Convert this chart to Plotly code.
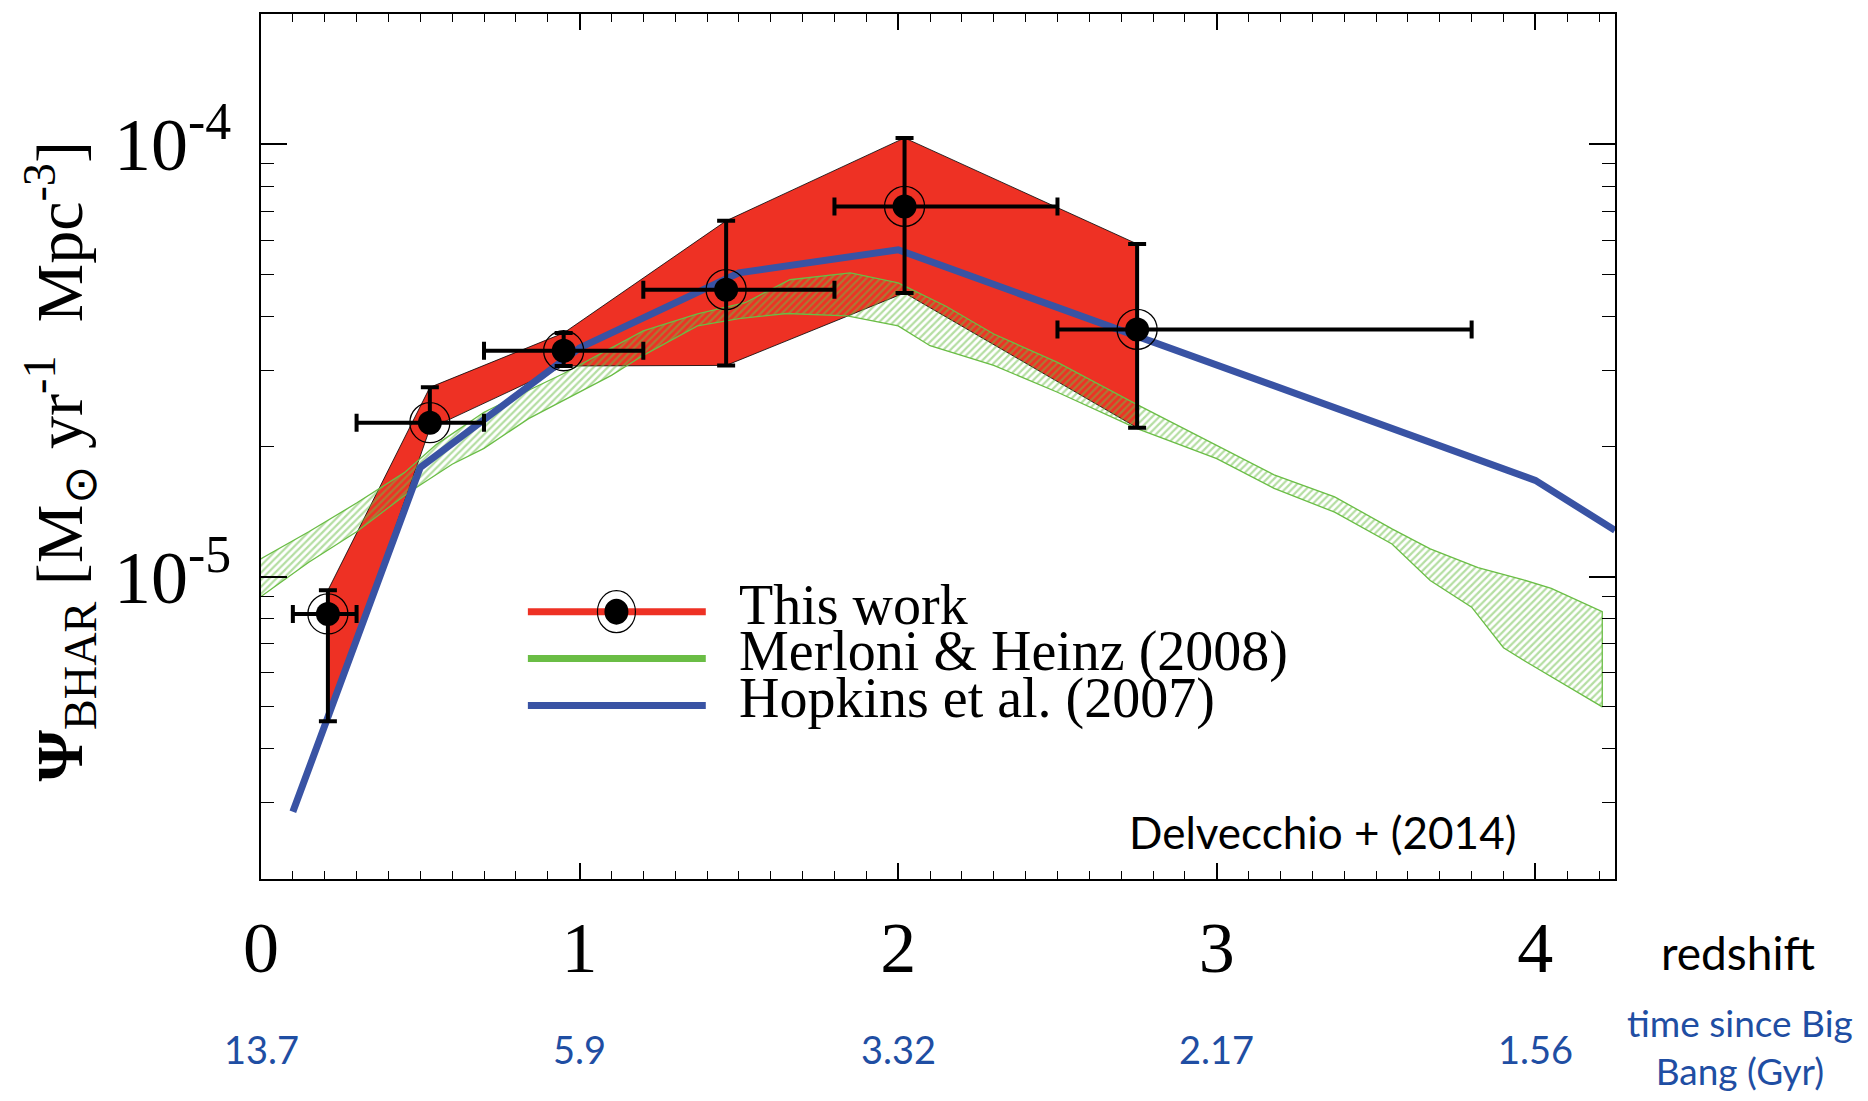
import plotly.graph_objects as go

# ---- Delvecchio et al. (2014): BHAR density per redshift bin ----
z_bins = [0.21, 0.53, 0.95, 1.46, 2.02, 2.75]
z_low = [0.10, 0.30, 0.70, 1.20, 1.80, 2.50]
z_high = [0.30, 0.70, 1.20, 1.80, 2.50, 3.80]
psi_bhar = [8.2e-6, 2.27e-5, 3.33e-5, 4.61e-5, 7.18e-5, 3.73e-5]
psi_upper = [9.3e-6, 2.74e-5, 3.66e-5, 6.65e-5, 1.034e-4, 5.88e-5]
psi_lower = [4.63e-6, 2.20e-5, 3.07e-5, 3.08e-5, 4.53e-5, 2.21e-5]

# ---- Hopkins et al. (2007) ----
hopkins_z = [0.1, 0.5, 1.0, 1.5, 2.0, 3.0, 4.0, 4.25]
hopkins_psi = [2.86e-6, 1.79e-5, 3.38e-5, 5.04e-5, 5.70e-5, 3.08e-5, 1.67e-5, 1.28e-5]

# ---- Merloni & Heinz (2008) envelope ----
mh_z_up = [0.0, 0.15, 0.3, 0.45, 0.55, 0.7, 0.85, 0.95, 1.1, 1.2, 1.37, 1.52, 1.66,
           1.85, 2.0, 2.15, 2.3, 2.5, 2.75, 3.0, 3.18, 3.37, 3.55, 3.67, 3.82, 3.96,
           4.05, 4.21]
mh_up = [1.10e-5, 1.27e-5, 1.48e-5, 1.74e-5, 2.02e-5, 2.40e-5, 2.72e-5, 2.95e-5,
         3.38e-5, 3.70e-5, 4.05e-5, 4.30e-5, 4.86e-5, 5.04e-5, 4.78e-5, 4.22e-5,
         3.64e-5, 3.13e-5, 2.50e-5, 2.01e-5, 1.72e-5, 1.53e-5, 1.29e-5, 1.16e-5,
         1.05e-5, 9.85e-6, 9.40e-6, 8.30e-6]
mh_z_lo = [0.0, 0.15, 0.3, 0.46, 0.6, 0.7, 0.84, 1.0, 1.1, 1.2, 1.37, 1.5, 1.65,
           1.84, 2.0, 2.1, 2.3, 2.5, 2.75, 3.0, 3.18, 3.37, 3.55, 3.67, 3.8, 3.9,
           3.98, 4.21]
mh_lo = [9.0e-6, 1.08e-5, 1.27e-5, 1.56e-5, 1.82e-5, 1.98e-5, 2.32e-5, 2.67e-5,
         2.92e-5, 3.25e-5, 3.80e-5, 3.95e-5, 4.06e-5, 4.01e-5, 3.80e-5, 3.42e-5,
         3.08e-5, 2.67e-5, 2.20e-5, 1.875e-5, 1.60e-5, 1.41e-5, 1.19e-5, 9.8e-6,
         8.5e-6, 6.85e-6, 6.3e-6, 5.0e-6]

# ---- axis ticks ----
redshift_ticks = [0, 1, 2, 3, 4]
redshift_labels = ["0", "1", "2", "3", "4"]
age_labels = ["13.7", "5.9", "3.32", "2.17", "1.56"]
psi_major = [1e-5, 1e-4]
psi_major_labels = ["10<sup>-5</sup>", "10<sup>-4</sup>"]
psi_minor = [2e-6, 3e-6, 4e-6, 5e-6, 6e-6, 7e-6, 8e-6, 9e-6,
             2e-5, 3e-5, 4e-5, 5e-5, 6e-5, 7e-5, 8e-5, 9e-5, 2e-4]

RED = "#ee3124"
GREEN = "#6abd45"
BLUE = "#3953a4"
TEXT_BLUE = "#1f4ea3"
SERIF = "Liberation Serif"
SANS = "Lato"

fig = go.Figure()

# red uncertainty band through the error-bar ends
fig.add_trace(go.Scatter(
    x=z_bins + z_bins[::-1],
    y=psi_upper + psi_lower[::-1],
    fill="toself", fillcolor=RED, mode="lines",
    line=dict(color="black", width=0.8), hoverinfo="skip"))

# hatched Merloni & Heinz band
fig.add_trace(go.Scatter(
    x=mh_z_up + mh_z_lo[::-1],
    y=mh_up + mh_lo[::-1],
    fill="toself", mode="lines",
    fillcolor="rgba(0,0,0,0)",
    fillpattern=dict(shape="/", fgcolor=GREEN, bgcolor="rgba(0,0,0,0)",
                     size=5, solidity=0.45),
    line=dict(color=GREEN, width=1.3), hoverinfo="skip"))

# Hopkins curve
fig.add_trace(go.Scatter(
    x=hopkins_z, y=hopkins_psi, mode="lines",
    line=dict(color=BLUE, width=7)))

# data points with error bars
fig.add_trace(go.Scatter(
    x=z_bins, y=psi_bhar, mode="markers",
    marker=dict(color="black", size=24),
    error_x=dict(type="data", symmetric=False,
                 array=[h - z for h, z in zip(z_high, z_bins)],
                 arrayminus=[z - l for l, z in zip(z_low, z_bins)],
                 color="black", thickness=4, width=9),
    error_y=dict(type="data", symmetric=False,
                 array=[h - p for h, p in zip(psi_upper, psi_bhar)],
                 arrayminus=[p - l for l, p in zip(psi_lower, psi_bhar)],
                 color="black", thickness=4, width=9)))
fig.add_trace(go.Scatter(
    x=z_bins, y=psi_bhar, mode="markers",
    marker=dict(symbol="circle-open", size=40, color="black",
                line=dict(width=1.3, color="black"))))

# ---- legend drawn by hand ----
shapes = []
legend_rows = [(RED, 0.3091, "This work"),
               (GREEN, 0.2549, "Merloni &amp; Heinz (2008)"),
               (BLUE, 0.2007, "Hopkins et al. (2007)")]
annotations = []
for col, yy, label in legend_rows:
    shapes.append(dict(type="line", xref="paper", yref="paper",
                       x0=0.1971, x1=0.3285, y0=yy, y1=yy,
                       line=dict(color=col, width=7)))
    annotations.append(dict(xref="paper", yref="paper", x=0.3514, y=yy + 0.008,
                            xanchor="left", yanchor="middle", showarrow=False,
                            text=label, font=dict(family=SERIF, size=56, color="black")))
shapes.append(dict(type="circle", xref="paper", yref="paper",
                   xsizemode="pixel", ysizemode="pixel",
                   xanchor=0.2625, yanchor=0.3091,
                   x0=-12, x1=12, y0=-13, y1=13,
                   fillcolor="black", line=dict(width=0)))
shapes.append(dict(type="circle", xref="paper", yref="paper",
                   xsizemode="pixel", ysizemode="pixel",
                   xanchor=0.2625, yanchor=0.3091,
                   x0=-19, x1=19, y0=-21, y1=21,
                   line=dict(color="black", width=1.2)))

# cosmic time below each redshift tick
for zt, age in zip(redshift_ticks, age_labels):
    annotations.append(dict(xref="x", yref="paper", x=zt, y=-0.196,
                            xanchor="center", yanchor="middle", showarrow=False,
                            text=age, font=dict(family=SANS, size=38, color=TEXT_BLUE)))

annotations += [
    dict(xref="paper", yref="paper", x=1.0912, y=-0.0854, xanchor="center",
         yanchor="middle", showarrow=False, text="redshift",
         font=dict(family=SANS, size=46, color="black")),
    dict(xref="paper", yref="paper", x=1.092, y=-0.1932, xanchor="center",
         yanchor="middle", showarrow=False, text="time since Big<br>Bang (Gyr)",
         font=dict(family=SANS, size=37, color=TEXT_BLUE)),
    dict(xref="paper", yref="paper", x=0.7841, y=0.0542, xanchor="center",
         yanchor="middle", showarrow=False, text="Delvecchio + (2014)",
         font=dict(family=SANS, size=44, color="black")),
    dict(xref="paper", yref="paper", x=-0.1484, y=0.4828, xanchor="center",
         yanchor="middle", showarrow=False, textangle=-90,
         text="<b>Ψ</b><sub>BHAR</sub> [M<sub>⊙</sub> yr<sup>-1</sup>  Mpc<sup>-3</sup>]",
         font=dict(family=SERIF, size=66, color="black")),
]

fig.update_layout(
    width=1868, height=1101,
    margin=dict(l=261, r=253, t=12, b=222),
    paper_bgcolor="white", plot_bgcolor="white",
    showlegend=False,
    shapes=shapes, annotations=annotations,
    xaxis=dict(range=[0, 4.25], showgrid=False, zeroline=False,
               showline=True, linecolor="black", linewidth=2, mirror="allticks",
               ticks="inside", ticklen=16, tickwidth=1.5, tickcolor="black",
               tickmode="array", tickvals=redshift_ticks, ticktext=redshift_labels,
               tickfont=dict(family=SERIF, size=72, color="black"),
               ticklabelstandoff=5,
               minor=dict(dtick=0.1, tick0=0, ticks="inside", ticklen=8,
                          tickwidth=1.2, tickcolor="black", showgrid=False)),
    yaxis=dict(type="log", range=[-5.69897, -3.69897], showgrid=False, zeroline=False,
               showline=True, linecolor="black", linewidth=2, mirror="allticks",
               ticks="inside", ticklen=26, tickwidth=1.5, tickcolor="black",
               tickmode="array", tickvals=psi_major, ticktext=psi_major_labels,
               tickfont=dict(family=SERIF, size=74, color="black"),
               ticklabelstandoff=13,
               minor=dict(tickmode="array", tickvals=psi_minor, ticks="inside",
                          ticklen=13, tickwidth=1.2, tickcolor="black", showgrid=False)),
)

fig.write_html("out.html")
